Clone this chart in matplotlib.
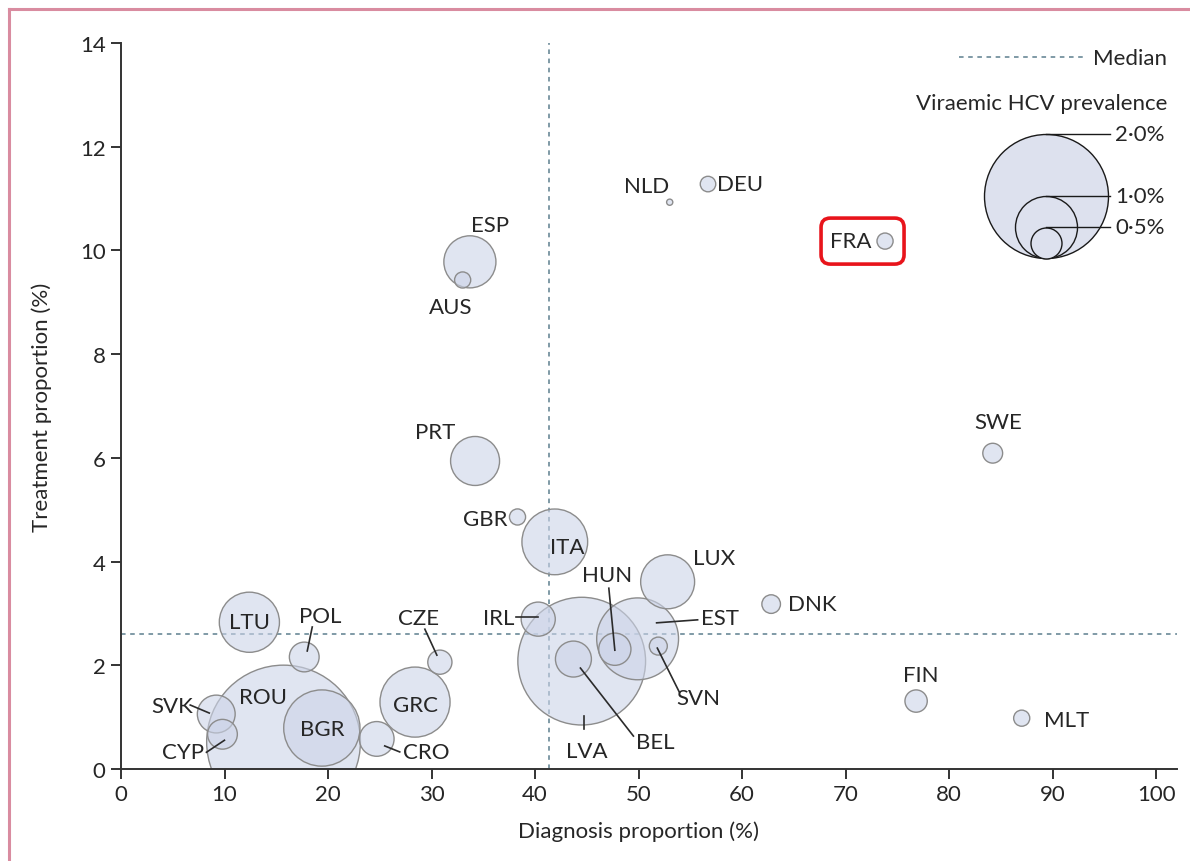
import matplotlib
matplotlib.use("Agg")
import matplotlib.pyplot as plt
from matplotlib.lines import Line2D
from matplotlib.patches import FancyBboxPatch

plt.rcParams['font.family'] = ['Lato', 'DejaVu Sans']

# Data
countries = ['NLD', 'DEU', 'FRA', 'ESP', 'AUS', 'PRT', 'GBR', 'ITA', 'LUX', 'IRL',
             'LVA', 'HUN', 'EST', 'SVN', 'BEL', 'DNK', 'SWE', 'FIN', 'MLT', 'LTU',
             'POL', 'ROU', 'BGR', 'SVK', 'CYP', 'GRC', 'CZE', 'CRO']
diagnosis = [53.0, 56.7, 73.8, 33.7, 33.0, 34.2, 38.3, 41.9, 52.8, 40.3,
             44.5, 47.7, 49.9, 51.9, 43.7, 62.8, 84.2, 76.8, 87.0, 12.4,
             17.7, 15.7, 19.4, 9.2, 9.8, 28.4, 30.8, 24.7]
treatment = [10.93, 11.28, 10.18, 9.78, 9.43, 5.94, 4.86, 4.38, 3.61, 2.89,
             2.08, 2.31, 2.51, 2.37, 2.12, 3.18, 6.09, 1.31, 0.98, 2.83,
             2.16, 0.52, 0.79, 1.06, 0.67, 1.29, 2.06, 0.58]
prevalence = [0.10, 0.25, 0.26, 0.84, 0.26, 0.79, 0.26, 1.06, 0.87, 0.55,
              2.06, 0.52, 1.32, 0.29, 0.58, 0.30, 0.32, 0.36, 0.26, 0.97,
              0.48, 2.48, 1.23, 0.61, 0.48, 1.13, 0.39, 0.56]
median_diag = 41.35
median_treat = 2.60
legend_prev = [2.0, 1.0, 0.5]
legend_labels = ['2·0%', '1·0%', '0·5%']

# label layout: (dx, dy, ha) in pixels from bubble centre, y up
label_pos = {
    'NLD': (-23, 16, 'center'), 'DEU': (9, 0, 'left'), 'FRA': (-34, 0, 'center'),
    'ESP': (20, 37, 'center'), 'AUS': (-12, -27, 'center'), 'PRT': (-40, 29, 'center'),
    'GBR': (-10, -2, 'right'), 'ITA': (12, -5, 'center'), 'LUX': (46, 24, 'center'),
    'IRL': (-40, 1, 'center'), 'LVA': (5, -90, 'center'), 'HUN': (-8, 74, 'center'),
    'EST': (82, 21, 'center'), 'SVN': (40, -52, 'center'), 'BEL': (82, -83, 'center'),
    'DNK': (17, 0, 'left'), 'SWE': (5, 31, 'center'), 'FIN': (5, 26, 'center'),
    'MLT': (22, -2, 'left'), 'LTU': (0, 0, 'center'), 'POL': (16, 41, 'center'),
    'ROU': (-21, 45, 'center'), 'BGR': (0, -1, 'center'), 'SVK': (-44, 8, 'center'),
    'CYP': (-39, -18, 'center'), 'GRC': (0, -3, 'center'), 'CZE': (-21, 44, 'center'),
    'CRO': (50, -13, 'center'),
}
leaders = {
    'IRL': ((-22, 2), (0, 2)), 'HUN': ((-6, 61), (0, -1)), 'EST': ((19, 16), (60, 19)),
    'SVN': ((-1, -2), (21, -46)), 'BEL': ((7, -9), (60, -77)), 'LVA': ((2, -55), (2, -68)),
    'POL': ((3, 6), (8, 30)), 'SVK': ((-26, 9), (-7, 1)), 'CYP': ((-16, -18), (2, -6)),
    'CZE': ((-15, 33), (-3, 7)), 'CRO': ((8, -7), (23, -13)),
}

W, H, DPI = 1190, 862, 100
PX_PER_PCT = 31  # bubble radius in pixels per 1% prevalence
TXT = '#262626'
FS = 16

fig = plt.figure(figsize=(W / DPI, H / DPI), dpi=DPI)
ax = fig.add_axes([121 / W, 1 - 770 / H, (1177 - 121) / W, (770 - 44) / H])
ax.set_xlim(0, 102)
ax.set_ylim(0, 14)
ppx = ax.bbox.width / 102
ppy = ax.bbox.height / 14


def size(p):
    return (2 * p * PX_PER_PCT * 72 / DPI) ** 2


# medians
med_style = dict(color='#5d7f8e', lw=1.1, ls=(0, (3, 3)), zorder=1)
ax.axvline(median_diag, **med_style)
ax.axhline(median_treat, **med_style)

# bubbles, largest first
order = sorted(range(len(countries)), key=lambda i: -prevalence[i])
ax.scatter([diagnosis[i] for i in order], [treatment[i] for i in order],
           s=[size(prevalence[i]) for i in order], facecolor=(0.80, 0.83, 0.91, 0.6),
           edgecolor='#8c8c8c', linewidth=1.0, zorder=2)

for name, x, y in zip(countries, diagnosis, treatment):
    dx, dy, ha = label_pos[name]
    ax.annotate(name, (x, y), xytext=(dx, dy), textcoords='offset pixels',
                ha=ha, va='center', fontsize=FS, color=TXT, zorder=4)
    if name in leaders:
        (x1, y1), (x2, y2) = leaders[name]
        ax.plot([x + x1 / ppx, x + x2 / ppx], [y + y1 / ppy, y + y2 / ppy],
                color='#2b2b2b', lw=1.2, zorder=3)

# highlight box around FRA
fi = countries.index('FRA')
fx, fy = diagnosis[fi], treatment[fi]
box = FancyBboxPatch((fx - 64 / ppx, fy - 23 / ppy), 83 / ppx, 46 / ppy,
                     boxstyle='round,pad=0,rounding_size=0.9', transform=ax.transData,
                     fill=False, edgecolor='#e8141b', lw=2.6, zorder=5,
                     mutation_aspect=ppx / ppy)
ax.add_patch(box)

# legend: median line
ax.plot([(959 - 121) / ppx, (1085 - 121) / ppx], [(770 - 58) / ppy] * 2,
        color='#5d7f8e', lw=1.1, ls=(0, (3, 3)), clip_on=False)
ax.text((1093 - 121) / ppx, (770 - 59) / ppy, 'Median', ha='left', va='center',
        fontsize=FS, color=TXT)
ax.text((1167 - 121) / ppx, (770 - 104) / ppy, 'Viraemic HCV prevalence', ha='right',
        va='center', fontsize=FS, color=TXT)

# legend: nested bubbles
lx = (1046 - 121) / ppx
lbot = (770 - 259) / ppy
for p, lab in zip(legend_prev, legend_labels):
    r = p * PX_PER_PCT
    ax.scatter([lx], [lbot + r / ppy], s=size(p), facecolor='#dde1ee',
               edgecolor='#1a1a1a', linewidth=1.0, zorder=2, clip_on=False)
    ytop = lbot + 2 * r / ppy
    ax.plot([lx, (1110 - 121) / ppx], [ytop, ytop], color='#1a1a1a', lw=1.0, zorder=3)
    ax.text((1115 - 121) / ppx, ytop, lab, ha='left', va='center', fontsize=FS, color=TXT)

# axes styling
for s in ['top', 'right']:
    ax.spines[s].set_visible(False)
for s in ['left', 'bottom']:
    ax.spines[s].set_linewidth(1.4)
    ax.spines[s].set_color('#333333')
ax.set_xticks(range(0, 101, 10))
ax.set_yticks(range(0, 15, 2))
ax.tick_params(direction='out', length=7, width=1.4, color='#333333', labelsize=FS,
               labelcolor=TXT, pad=4)
ax.set_xlabel('Diagnosis proportion (%)', fontsize=FS, color=TXT)
ax.set_ylabel('Treatment proportion (%)', fontsize=FS, color=TXT)
ax.xaxis.set_label_coords(50 / 102, (770 - 821) / 726)
ax.yaxis.set_label_coords((52 - 121) / 1056, 0.5)

# pink frame (left and top edges)
frame = dict(color='#d98ca0', lw=2.2, transform=fig.transFigure)
fig.add_artist(Line2D([9 / W, 9 / W], [0, 1 - 10 / H], **frame))
fig.add_artist(Line2D([9 / W, 1], [1 - 10 / H, 1 - 10 / H], **frame))

fig.savefig('out.png', dpi=DPI)
